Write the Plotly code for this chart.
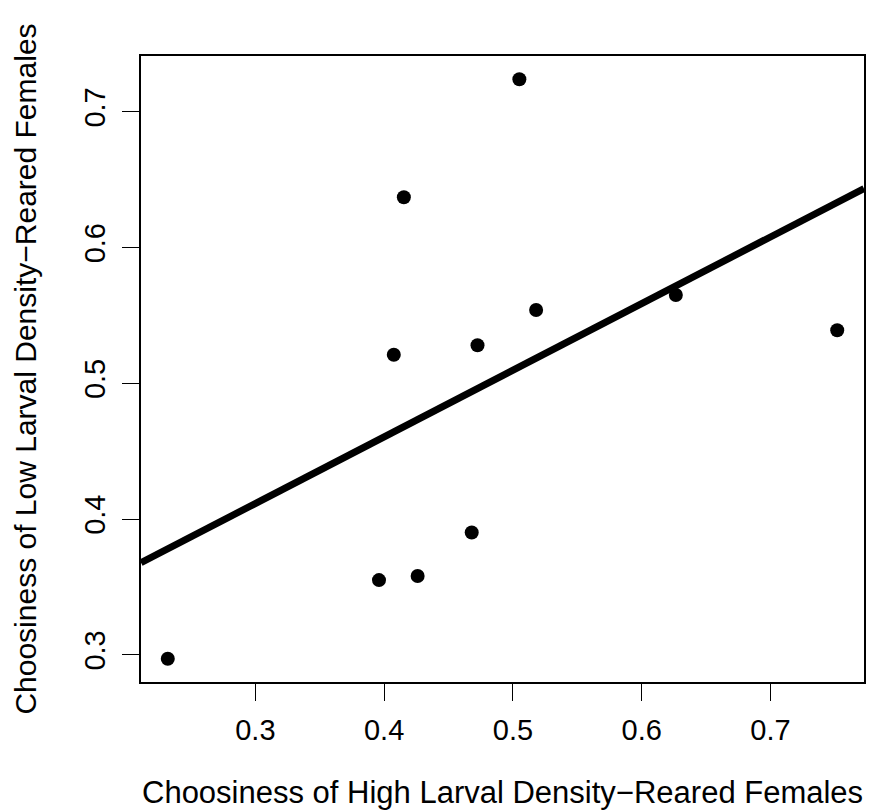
import plotly.graph_objects as go

# Data
high_density = [0.232, 0.396, 0.426, 0.468, 0.4075, 0.4725, 0.4153, 0.505, 0.518, 0.6265, 0.7518]
low_density = [0.297, 0.355, 0.358, 0.390, 0.521, 0.528, 0.637, 0.724, 0.554, 0.565, 0.539]

fit_intercept = 0.2641
fit_slope = 0.491

x_ticks = [0.3, 0.4, 0.5, 0.6, 0.7]
y_ticks = [0.3, 0.4, 0.5, 0.6, 0.7]

x_title = "Choosiness of High Larval Density\u2212Reared Females"
y_title = "Choosiness of Low Larval Density\u2212Reared Females"

# R-style 4% axis expansion
def expand(vals):
    lo, hi = min(vals), max(vals)
    d = (hi - lo) * 0.04
    return [lo - d, hi + d]

x_range = expand(high_density)
y_range = expand(low_density)

fig = go.Figure()
fig.add_trace(go.Scatter(
    x=[x_range[0], x_range[1]],
    y=[fit_intercept + fit_slope * x_range[0], fit_intercept + fit_slope * x_range[1]],
    mode="lines", line=dict(color="black", width=7), showlegend=False, hoverinfo="skip"))
fig.add_trace(go.Scatter(
    x=high_density, y=low_density, mode="markers",
    marker=dict(color="black", size=14), showlegend=False, cliponaxis=False))

tick_font = dict(family="Liberation Sans, Arial, sans-serif", size=29, color="black")
xtitle_font = dict(family="Liberation Sans, Arial, sans-serif", size=31, color="black")
ytitle_font = dict(family="Liberation Sans, Arial, sans-serif", size=30, color="black")

fig.update_layout(
    width=869, height=812,
    margin=dict(l=141, r=3, t=56, b=130),
    paper_bgcolor="white", plot_bgcolor="white",
    font=tick_font,
    xaxis=dict(range=x_range, tickvals=x_ticks, ticktext=[str(v) for v in x_ticks],
               ticks="outside", ticklen=17, tickwidth=1.3, tickcolor="black",
               showline=True, linecolor="black", linewidth=1.6, mirror=True,
               showgrid=False, zeroline=False, tickfont=tick_font, ticklabelstandoff=4),
    yaxis=dict(range=y_range, tickvals=y_ticks, ticktext=[str(v) for v in y_ticks],
               ticks="outside", ticklen=17, tickwidth=1.3, tickcolor="black",
               showline=True, linecolor="black", linewidth=1.6, mirror=True,
               showgrid=False, zeroline=False, tickfont=tick_font, tickangle=-90,
               ticklabelstandoff=6),
    annotations=[
        dict(text=x_title, xref="paper", yref="paper", x=0.5, y=-0.1773,
             xanchor="center", yanchor="middle", showarrow=False, font=xtitle_font),
        dict(text=y_title, xref="paper", yref="paper", x=-0.161, y=0.5,
             xanchor="center", yanchor="middle", showarrow=False, font=ytitle_font, textangle=-90),
    ],
)

fig.write_html("out.html", config={"displayModeBar": False},
               post_script="document.body.style.margin='0';document.body.style.overflow='hidden';")
